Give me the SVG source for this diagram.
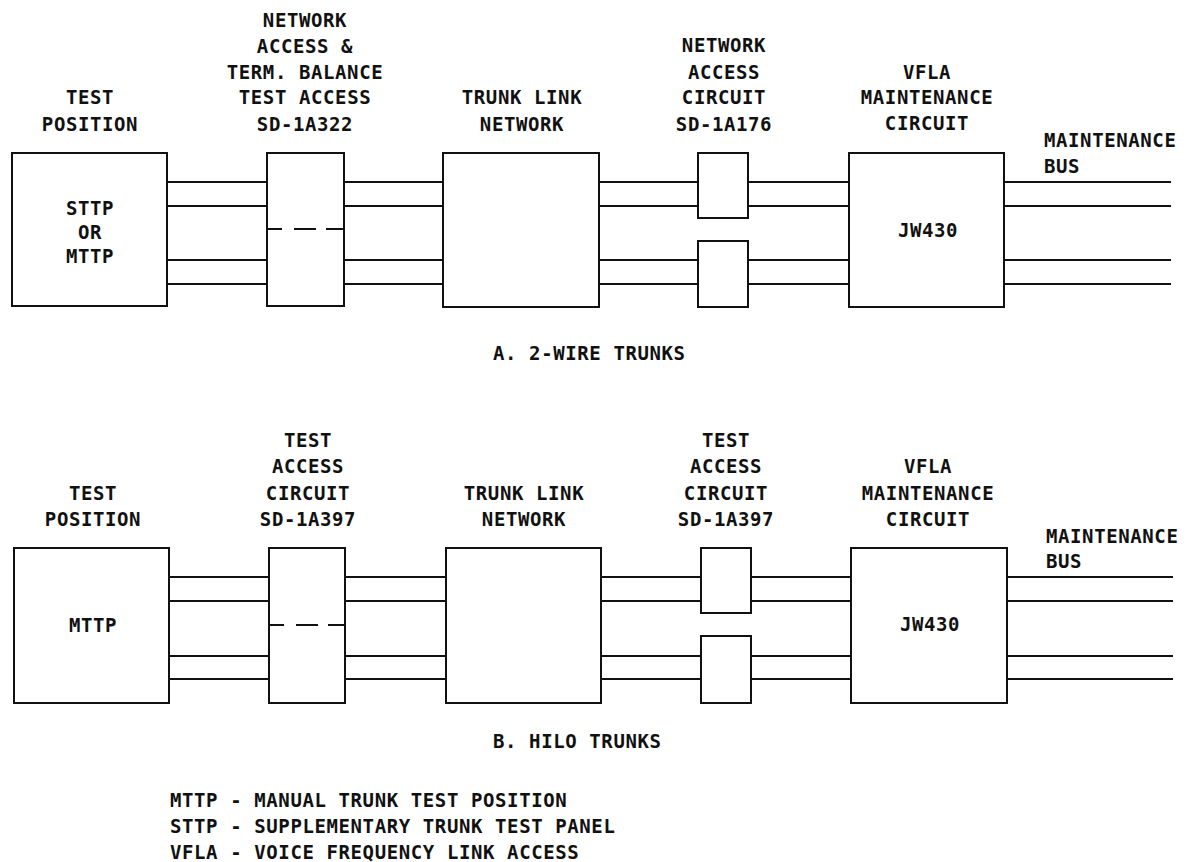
<svg xmlns="http://www.w3.org/2000/svg" width="1190" height="862" viewBox="0 0 1190 862">
<style>
  text { font-family: "DejaVu Sans Mono", "Liberation Mono", monospace; font-size: 19px; font-weight: bold; letter-spacing: 0.6px; fill: #111; }
  .c { text-anchor: middle; }
  .box { fill: none; stroke: #111; stroke-width: 2; }
  .w { stroke: #111; stroke-width: 2; fill: none; }
  .dash { stroke: #111; stroke-width: 2; stroke-dasharray: 15 12 22 10 20; }
</style>
<rect width="1190" height="862" fill="#fff"/>

<!-- ===== A. 2-WIRE TRUNKS ===== -->
<g id="a-test-position">
  <text class="c" x="90" y="104">TEST</text>
  <text class="c" x="90" y="131">POSITION</text>
  <rect class="box" x="12" y="153" width="155" height="153"/>
  <text class="c" x="90" y="215">STTP</text>
  <text class="c" x="90" y="239">OR</text>
  <text class="c" x="90" y="263">MTTP</text>
</g>
<g id="a-net-access-term">
  <text class="c" x="305" y="27">NETWORK</text>
  <text class="c" x="305" y="53">ACCESS &amp;</text>
  <text class="c" x="305" y="79">TERM. BALANCE</text>
  <text class="c" x="305" y="104">TEST ACCESS</text>
  <text class="c" x="305" y="131">SD-1A322</text>
  <rect class="box" x="267" y="153" width="77" height="153"/>
  <line class="dash" x1="267" y1="229" x2="344" y2="229"/>
</g>
<g id="a-trunk-link">
  <text class="c" x="522" y="104">TRUNK LINK</text>
  <text class="c" x="522" y="131">NETWORK</text>
  <rect class="box" x="443" y="153" width="156" height="154"/>
</g>
<g id="a-net-access-circuit">
  <text class="c" x="724" y="52">NETWORK</text>
  <text class="c" x="724" y="79">ACCESS</text>
  <text class="c" x="724" y="104">CIRCUIT</text>
  <text class="c" x="724" y="131">SD-1A176</text>
  <rect class="box" x="698" y="153" width="50" height="65"/>
  <rect class="box" x="698" y="241" width="50" height="66"/>
</g>
<g id="a-vfla">
  <text class="c" x="927" y="79">VFLA</text>
  <text class="c" x="927" y="104">MAINTENANCE</text>
  <text class="c" x="927" y="130">CIRCUIT</text>
  <rect class="box" x="849" y="153" width="155" height="154"/>
  <text class="c" x="928" y="237">JW430</text>
</g>
<g id="a-bus-label">
  <text x="1044" y="147">MAINTENANCE</text>
  <text x="1044" y="173">BUS</text>
</g>
<g id="a-connectors">
  <path class="w" d="M167 182H267M167 206H267M167 260H267M167 284H267"/>
  <path class="w" d="M344 182H443M344 206H443M344 260H443M344 284H443"/>
  <path class="w" d="M599 182H698M599 206H698M599 260H698M599 284H698"/>
  <path class="w" d="M748 182H849M748 206H849M748 260H849M748 284H849"/>
  <path class="w" d="M1004 182H1171M1004 206H1171M1004 260H1171M1004 284H1171"/>
</g>
<text x="493" y="360">A. 2-WIRE TRUNKS</text>

<!-- ===== B. HILO TRUNKS ===== -->
<g id="b-test-position">
  <text class="c" x="93" y="500">TEST</text>
  <text class="c" x="93" y="526">POSITION</text>
  <rect class="box" x="14" y="548" width="155" height="155"/>
  <text class="c" x="93" y="632">MTTP</text>
</g>
<g id="b-test-access-1">
  <text class="c" x="308" y="447">TEST</text>
  <text class="c" x="308" y="473">ACCESS</text>
  <text class="c" x="308" y="500">CIRCUIT</text>
  <text class="c" x="308" y="526">SD-1A397</text>
  <rect class="box" x="269" y="548" width="76" height="155"/>
  <line class="dash" x1="269" y1="625" x2="345" y2="625"/>
</g>
<g id="b-trunk-link">
  <text class="c" x="524" y="500">TRUNK LINK</text>
  <text class="c" x="524" y="526">NETWORK</text>
  <rect class="box" x="446" y="548" width="155" height="155"/>
</g>
<g id="b-test-access-2">
  <text class="c" x="726" y="447">TEST</text>
  <text class="c" x="726" y="473">ACCESS</text>
  <text class="c" x="726" y="500">CIRCUIT</text>
  <text class="c" x="726" y="526">SD-1A397</text>
  <rect class="box" x="701" y="548" width="50" height="65"/>
  <rect class="box" x="701" y="636" width="50" height="67"/>
</g>
<g id="b-vfla">
  <text class="c" x="928" y="473">VFLA</text>
  <text class="c" x="928" y="500">MAINTENANCE</text>
  <text class="c" x="928" y="526">CIRCUIT</text>
  <rect class="box" x="851" y="548" width="156" height="155"/>
  <text class="c" x="930" y="631">JW430</text>
</g>
<g id="b-bus-label">
  <text x="1046" y="543">MAINTENANCE</text>
  <text x="1046" y="568">BUS</text>
</g>
<g id="b-connectors">
  <path class="w" d="M169 577H269M169 601H269M169 656H269M169 679H269"/>
  <path class="w" d="M345 577H446M345 601H446M345 656H446M345 679H446"/>
  <path class="w" d="M601 577H701M601 601H701M601 656H701M601 679H701"/>
  <path class="w" d="M751 577H851M751 601H851M751 656H851M751 679H851"/>
  <path class="w" d="M1007 577H1173M1007 601H1173M1007 656H1173M1007 679H1173"/>
</g>
<text x="493" y="748">B. HILO TRUNKS</text>

<!-- ===== Legend ===== -->
<g id="legend">
  <text x="170" y="807">MTTP - MANUAL TRUNK TEST POSITION</text>
  <text x="170" y="833">STTP - SUPPLEMENTARY TRUNK TEST PANEL</text>
  <text x="170" y="859">VFLA - VOICE FREQUENCY LINK ACCESS</text>
</g>
</svg>
